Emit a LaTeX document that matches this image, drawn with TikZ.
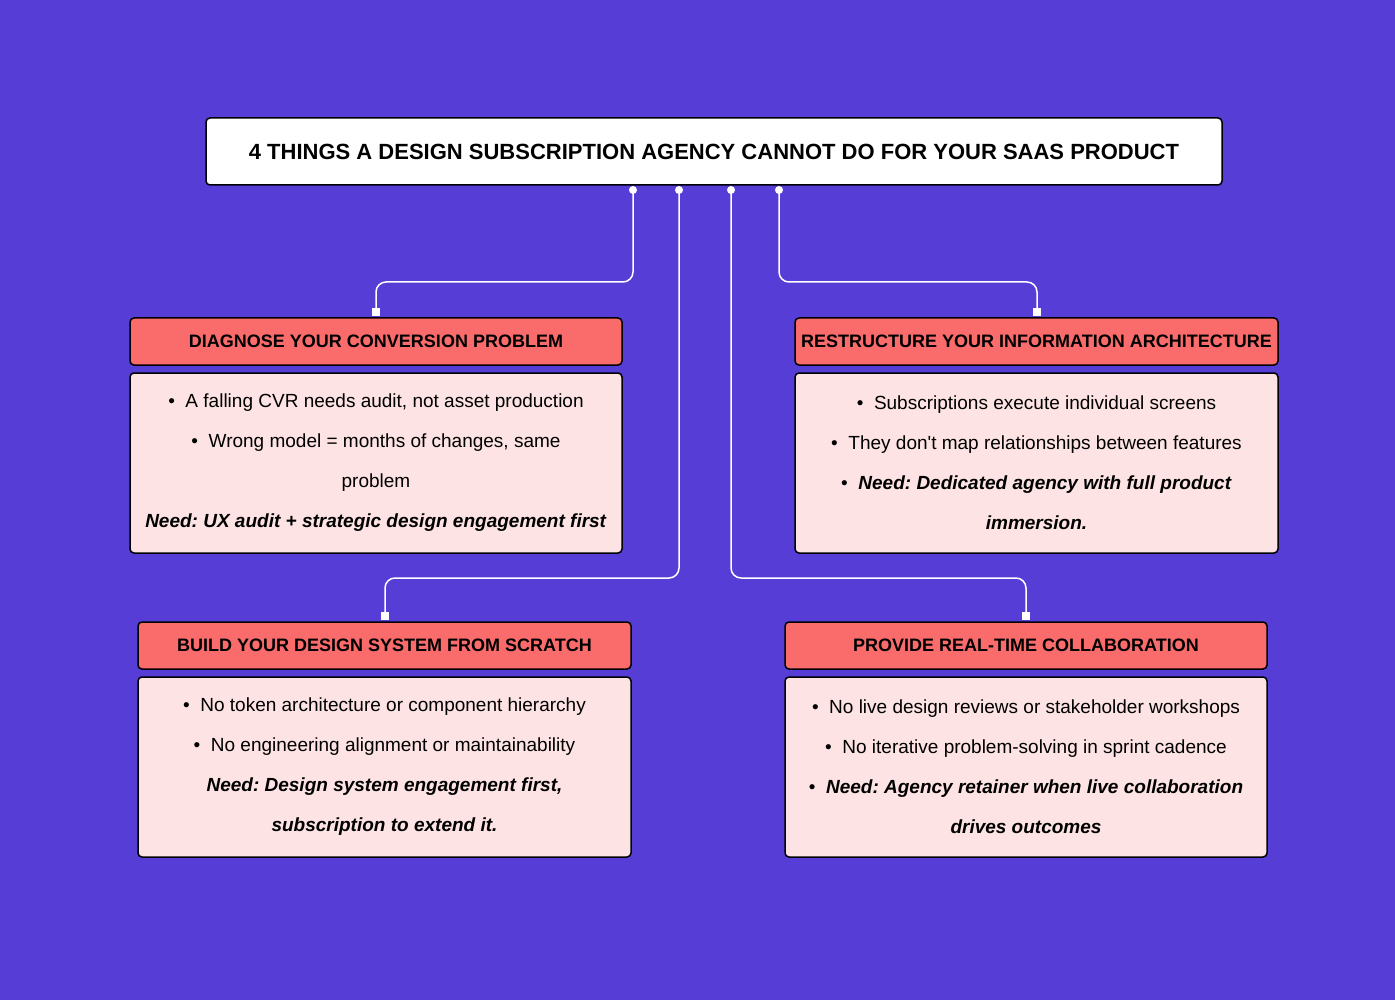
\documentclass[tikz,border=0pt]{standalone}
\usepackage{fontspec}
\setmainfont{Liberation Sans}
\frenchspacing
\definecolor{bg}{HTML}{553DD6}
\definecolor{head}{HTML}{FA6B6B}
\definecolor{body}{HTML}{FDE3E3}
\tikzset{
  box/.style={draw=black,line width=1.5pt,rounded corners=4pt,inner sep=0pt},
  headbox/.style={box,fill=head,minimum height=47pt,font=\fontsize{18}{22}\selectfont\bfseries},
  bodybox/.style={box,fill=body,minimum height=180pt,align=center,font=\fontsize{19}{40}\selectfont},
  link/.style={draw=white,line width=1.5pt,rounded corners=10pt},
  dot/.style={circle,fill=white,inner sep=0pt,minimum size=8pt},
  pin/.style={fill=white,inner sep=0pt,minimum size=8pt}
}
\begin{document}
\begin{tikzpicture}[x=1pt,y=-1pt]
  \fill[bg] (0,0) rectangle (1395,1000);
  \useasboundingbox (0,0) rectangle (1395,1000);
  % title
  \node[box,fill=white,minimum width=1016pt,minimum height=67pt,font=\fontsize{22}{26}\selectfont\bfseries] (title) at (714,151.5) {4 THINGS A DESIGN SUBSCRIPTION AGENCY CANNOT DO FOR YOUR SAAS PRODUCT};
  % headers
  \node[headbox,minimum width=492pt] (h1) at (376,341.5) {DIAGNOSE YOUR CONVERSION PROBLEM};
  \node[headbox,minimum width=483pt] (h2) at (1036.5,341.5) {RESTRUCTURE YOUR INFORMATION ARCHITECTURE};
  \node[headbox,minimum width=493pt] (h3) at (384.5,645.5) {BUILD YOUR DESIGN SYSTEM FROM SCRATCH};
  \node[headbox,minimum width=482pt] (h4) at (1026,645.5) {PROVIDE REAL-TIME COLLABORATION};
  % bodies
  \node[bodybox,minimum width=492pt] (b1) at (376,463) {\textbullet\ \ A falling CVR needs audit, not asset production\\\textbullet\ \ Wrong model = months of changes, same\\problem\\\textbf{\textit{Need: UX audit + strategic design engagement first}}};
  \node[bodybox,minimum width=483pt] (b2) at (1036.5,463) {\textbullet\ \ Subscriptions execute individual screens\\\textbullet\ \ They don\textquotesingle t map relationships between features\\\textbullet\ \ \textbf{\textit{Need: Dedicated agency with full product}}\\\textbf{\textit{immersion.}}};
  \node[bodybox,minimum width=493pt] (b3) at (384.5,767) {\textbullet\ \ No token architecture or component hierarchy\\\textbullet\ \ No engineering alignment or maintainability\\\textbf{\textit{Need: Design system engagement first,}}\\\textbf{\textit{subscription to extend it.}}};
  \node[bodybox,minimum width=482pt] (b4) at (1026,767) {\textbullet\ \ No live design reviews or stakeholder workshops\\\textbullet\ \ No iterative problem-solving in sprint cadence\\\textbullet\ \ \textbf{\textit{Need: Agency retainer when live collaboration}}\\\textbf{\textit{drives outcomes}}};
  % connectors
  \foreach \n/\x in {1/633,2/779,3/679,4/731}{
    \node[dot] (s\n) at (\x,190) {};
  }
  \foreach \n/\x/\y in {1/376/312,2/1037/312,3/385/616,4/1026/616}{
    \node[pin] (e\n) at (\x,\y) {};
  }
  \draw[link] (s1.center) |- (505,282) -| (e1.center);
  \draw[link] (s2.center) |- (908,282) -| (e2.center);
  \draw[link] (s3.center) |- (530,578) -| (e3.center);
  \draw[link] (s4.center) |- (880,578) -| (e4.center);
\end{tikzpicture}
\end{document}
